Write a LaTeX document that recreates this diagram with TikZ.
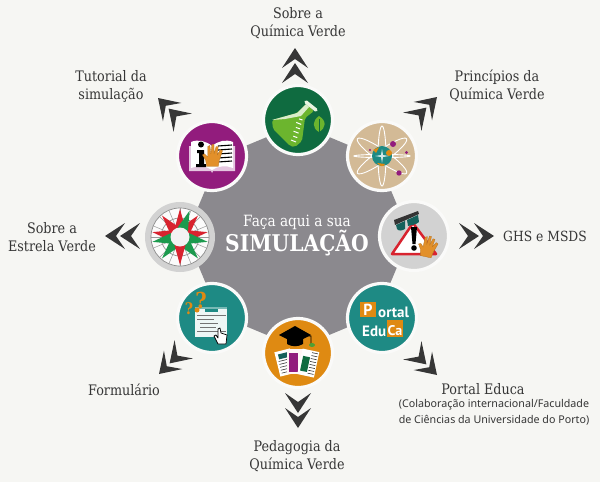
\documentclass[tikz,border=0pt]{standalone}
\usepackage{fontspec}
\setmainfont{DejaVu Serif}[FakeStretch=0.88]
\newfontfamily\capfont{Noto Sans}
\newfontfamily\condfont{PT Sans}
\definecolor{bgc}{HTML}{F6F6F3}
\definecolor{polyc}{HTML}{8B898E}
\definecolor{ink}{HTML}{363636}
\definecolor{dgreen}{HTML}{0F6B40}
\definecolor{lgreen}{HTML}{6CB52E}
\definecolor{tanc}{HTML}{D3BA96}
\definecolor{greyc}{HTML}{D2D2D2}
\definecolor{tealc}{HTML}{1E8A84}
\definecolor{orangec}{HTML}{DF8A12}
\definecolor{purplec}{HTML}{921C7D}
\definecolor{redc}{HTML}{D8232F}
\definecolor{compgreen}{HTML}{1C9A4E}
\definecolor{handc}{HTML}{E2902A}
\tikzset{
  disc/.style={circle,minimum size=69pt,inner sep=0pt,draw=white!50!bgc,line width=3.2pt},
  lab/.style={align=center,text=ink,font=\fontsize{14.5}{18}\selectfont},
  chevpiece/.style={fill=ink,draw=none},
  pics/chevpair/.style={code={
    \fill[chevpiece] (0,0) -- (-20,-13) -- (-11,0) -- (-20,13) -- cycle;
    \fill[chevpiece] (-15,0) -- (-35,-13) -- (-26,0) -- (-35,13) -- cycle;
  }},
  pics/handicon/.style={code={
    \fill[handc,draw=handc!80!black,line width=.3pt,line join=round]
      (-6,9) -- (-7,3) -- (-10,-2) -- (-8,-3) -- (-5,0) -- (-5,-10) -- (-3,-11) -- (-2,-3)
      -- (-1,-12) -- (1,-12) -- (1,-3) -- (3,-10) -- (5,-10) -- (4,-2) -- (7,-7) -- (9,-6)
      -- (6,3) -- (5,9) -- cycle;
  }},
}
\begin{document}
\begin{tikzpicture}[x=1pt,y=-1pt]
\useasboundingbox (0,0) rectangle (600,482);
\fill[bgc] (0,0) rectangle (600,482);

% central octagon
\node[draw=none,fill=none,inner sep=0pt] (centre) at (298,236) {};
\fill[polyc] (298,124) -- (377,157) -- (410,236) -- (377,315) -- (298,348) -- (219,315) -- (186,236) -- (219,157) -- cycle;
\node[text=white,font=\fontsize{15.5}{16}\selectfont] (faca) at (297,222) {Faça aqui a sua};
\node[text=white,font=\fontsize{23}{24}\bfseries\selectfont] (simul) at (297,243) {SIMULAÇÃO};

% discs
\node[disc,fill=dgreen] (dflask) at (298,120) {};
\node[disc,fill=tanc] (datom) at (382,156) {};
\node[disc,fill=greyc] (dwarn) at (414,236) {};
\node[disc,fill=tealc] (dportal) at (382,318) {};
\node[disc,fill=orangec] (dped) at (298,353) {};
\node[disc,fill=tealc] (dform) at (212,318) {};
\node[disc,fill=greyc,draw=none,minimum size=70pt] (dcomp) at (180,237) {};
\node[disc,fill=purplec] (dbook) at (212,156) {};

% flask icon
\fill[lgreen,rounded corners=2pt] (306,104) -- (314,111) -- (305,118) -- (302,141) -- (295,147) -- (290,146) -- (273,129) -- (272,120) -- (297,113) -- cycle;
\fill[white!75!lgreen] (272,120) -- (297,113) -- (306,104) -- (309,107) -- (301,116) -- (285,119) -- cycle;
\draw[white!85!lgreen,line width=3.5pt,line cap=round] (306,102) -- (316,110);
\foreach \t/\l in {0/3.5,1/5,2/4,3/5,4/4,5/5}
  \draw[white,line width=1pt] ({302.5-\t*1.3},{120+\t*4.4}) -- ++({-\l},{-.6*\l+1});
\fill[lgreen] (319,116) .. controls (327,121) and (326,128) .. (319,132) .. controls (312,128) and (312,121) .. (319,116) -- cycle;
\draw[dgreen,line width=.5pt] (319,119) -- (319,134);

% atom icon
\begin{scope}[shift={(382,156)}]
\foreach \a/\rx/\ry in {0/28/1.6,90/30/4,35/30/6,-35/30/6}
  \draw[white,line width=.9pt,rotate=\a] (0,0) ellipse ({\rx} and {\ry});
\fill[tealc] (0,0) circle (10);
\fill[orangec] (-9,-6) -- (-3,-9) -- (-6,-3) -- cycle;
\fill[orangec] (-5,7) .. controls (-2,11) and (2,11) .. (3,8) -- cycle;
\fill[orangec] (7,-3) circle (3);
\fill[white!80!tealc] (0,-7) -- (1,-1) -- (7,0) -- (1,1) -- (0,7) -- (-1,1) -- (-7,0) -- (-1,-1) -- cycle;
\fill[purplec] (11,-12) circle (3);
\fill[purplec] (17,17) circle (2.7);
\fill[purplec] (24.5,-3.5) circle (1.7);
\fill[purplec] (-12,-6) circle (1.2);
\end{scope}

% warning icon
\fill[white,draw=redc,line width=2.5pt,line join=round] (413,223) -- (392,254) -- (436,254) -- cycle;
\fill[black] (411,227) -- (417,227) -- (415.5,244) -- (412.5,244) -- cycle;
\fill[black] (414,248) circle (2.8);
\fill[black!80] (394,220) -- (418,211) -- (419,214) -- (395,225) -- cycle;
\fill[tealc!70!black] (396,225) -- (405,221) -- (405,229) .. controls (402,231) and (398,231) .. (397,229) -- cycle;
\fill[tealc!70!black] (407,220) -- (418,215) -- (419,222) .. controls (416,225) and (411,225) .. (408,226) -- cycle;
\pic[rotate=-12] at (428,248) {handicon};

% portal icon
\fill[orangec] (360,302) rectangle (376,317);
\node[text=white,font=\condfont\bfseries\fontsize{16}{16}\selectfont,inner sep=0] (pP) at (368,310) {P};
\node[text=white,font=\condfont\bfseries\fontsize{15}{16}\selectfont,inner sep=0,anchor=west] (portaltxt) at (378,312) {ortal};
\node[text=white,font=\condfont\bfseries\fontsize{15}{16}\selectfont,inner sep=0,anchor=west] (edutxt) at (362,331) {Edu};
\fill[orangec] (387,320) rectangle (403,337);
\node[text=white,font=\condfont\bfseries\fontsize{14}{16}\selectfont,inner sep=0] (catxt) at (395,331) {Ca};

% pedagogy icon
\begin{scope}
\begin{scope}[rotate around={14:(285,362)}]
\fill[white] (277,350) rectangle (293,375);
\fill[tealc!70!black] (280,353) rectangle (290,358);
\foreach \y in {360,363,366,369,372}
  \draw[black!80,line width=.6pt] (279,\y) -- (291,\y);
\end{scope}
\fill[white!85!pink] (287,349) rectangle (303,374);
\fill[purplec] (289,353) rectangle (298,372);
\begin{scope}[rotate around={-12:(308,362)}]
\fill[white] (300,350) rectangle (317,376);
\fill[dgreen] (302,357) rectangle (309,372);
\foreach \y in {352,355,358,361,364,367,370,373}
  \draw[black!80,line width=.6pt] (310,\y) -- (316,\y);
\end{scope}
\end{scope}
\fill[black] (287,336) -- (303,336) -- (303,344) .. controls (298,347) and (292,347) .. (287,344) -- cycle;
\fill[black] (295,326) -- (311,335) -- (295,343) -- (279,335) -- cycle;
\draw[black,line width=.8pt] (295,335) -- (311,336) -- (311,344);
\fill[lgreen!70!dgreen] (312,345) ellipse (3 and 2);

% form icon
\fill[white!92!tealc] (195,307) rectangle (227,337);
\fill[tealc!60!white] (195,307) rectangle (227,309);
\fill[tealc] (205,308.5) rectangle (218,311.5);
\foreach \y/\a/\b in {315/197/226,319/197/214,323/200/218,327/200/216,331/197/226}
  \draw[black!55,line width=.9pt] (\a,\y) -- (\b,\y);
\fill[orangec] (197,310) circle (2.5);
\node[text=orangec,font=\fontsize{22}{22}\bfseries\selectfont,inner sep=0] (qm1) at (201,300) {?};
\node[text=orangec,font=\fontsize{16}{16}\bfseries\selectfont,inner sep=0] (qm2) at (189,309) {?};
\fill[white,draw=black,line width=.7pt,line join=round] (218,344) -- (214,336) -- (216,335) -- (218,338) -- (218,329) -- (220,328) -- (221,333) -- (227,335) -- (226,344) -- cycle;

% compass icon
\begin{scope}[shift={(180,237)}]
\fill[white!92!greyc] (0,0) circle (29);
\draw[black!45,line width=.7pt] (0,0) circle (29) (0,0) circle (19);
\foreach \a in {0,22.5,...,337.5}
  \draw[black!40,line width=.5pt] (\a:12) -- (\a:29);
\foreach \a/\c in {90/redc,50/redc,130/redc,10/redc,170/redc,-10/compgreen,-170/compgreen,-50/compgreen,-130/compgreen,-90/redc,70/compgreen}
  \fill[\c,rotate=\a] (28,0) -- (8,-5.5) -- (8,5.5) -- cycle;
\fill[white!95!black] (0,0) circle (9.5);
\end{scope}

% book icon
\fill[white!75!purplec] (189,146) -- (189,171) -- (211,171) -- (212,173) -- (213,171) -- (235,171) -- (235,146) -- cycle;
\fill[white] (191,142) .. controls (198,139) and (206,141) .. (212,146) .. controls (218,141) and (226,139) .. (233,142) -- (233,168) .. controls (226,165) and (218,166) .. (212,170) .. controls (206,166) and (198,165) .. (191,168) -- cycle;
\foreach \y in {146,150,154,158,162}
  \draw[black,line width=1.1pt] (218,\y) -- (232,\y-1);
\fill[black] (201,144.5) circle (3);
\fill[black] (197,150) -- (204,150) -- (204,164) -- (206,164) -- (206,167) -- (196,167) -- (196,164) -- (199,164) -- (199,153) -- (197,153) -- cycle;
\pic[scale=1.05] at (213,157) {handicon};

% chevrons
\pic[rotate=90] at (295,48) {chevpair};
\pic[rotate=45] at (437,97) {chevpair};
\pic[rotate=0] at (494,236) {chevpair};
\pic[rotate=-45] at (437,375) {chevpair};
\pic[rotate=-90] at (298,428) {chevpair};
\pic[rotate=-135] at (159,374) {chevpair};
\pic[rotate=180] at (105,236) {chevpair};
\pic[rotate=135] at (158,98) {chevpair};

% labels
\node[lab] (l1) at (298,23) {Sobre a\\Química Verde};
\node[lab] (l2) at (497,86) {Princípios da\\Química Verde};
\node[lab,font=\fontsize{14}{18}\selectfont] (l3) at (545,236) {GHS e MSDS};
\node[lab] (l4) at (483,389) {Portal Educa};
\node[align=center,text=ink,font=\capfont\fontsize{10.7}{16}\selectfont] (l4b) at (494,412) {(Colaboração internacional/Faculdade\\de Ciências da Universidade do Porto)};
\node[lab] (l5) at (297,456) {Pedagogia da\\Química Verde};
\node[lab] (l6) at (124,390) {Formulário};
\node[lab] (l7) at (52,237) {Sobre a\\Estrela Verde};
\node[lab] (l8) at (111,86) {Tutorial da\\simulação};
\end{tikzpicture}
\end{document}
